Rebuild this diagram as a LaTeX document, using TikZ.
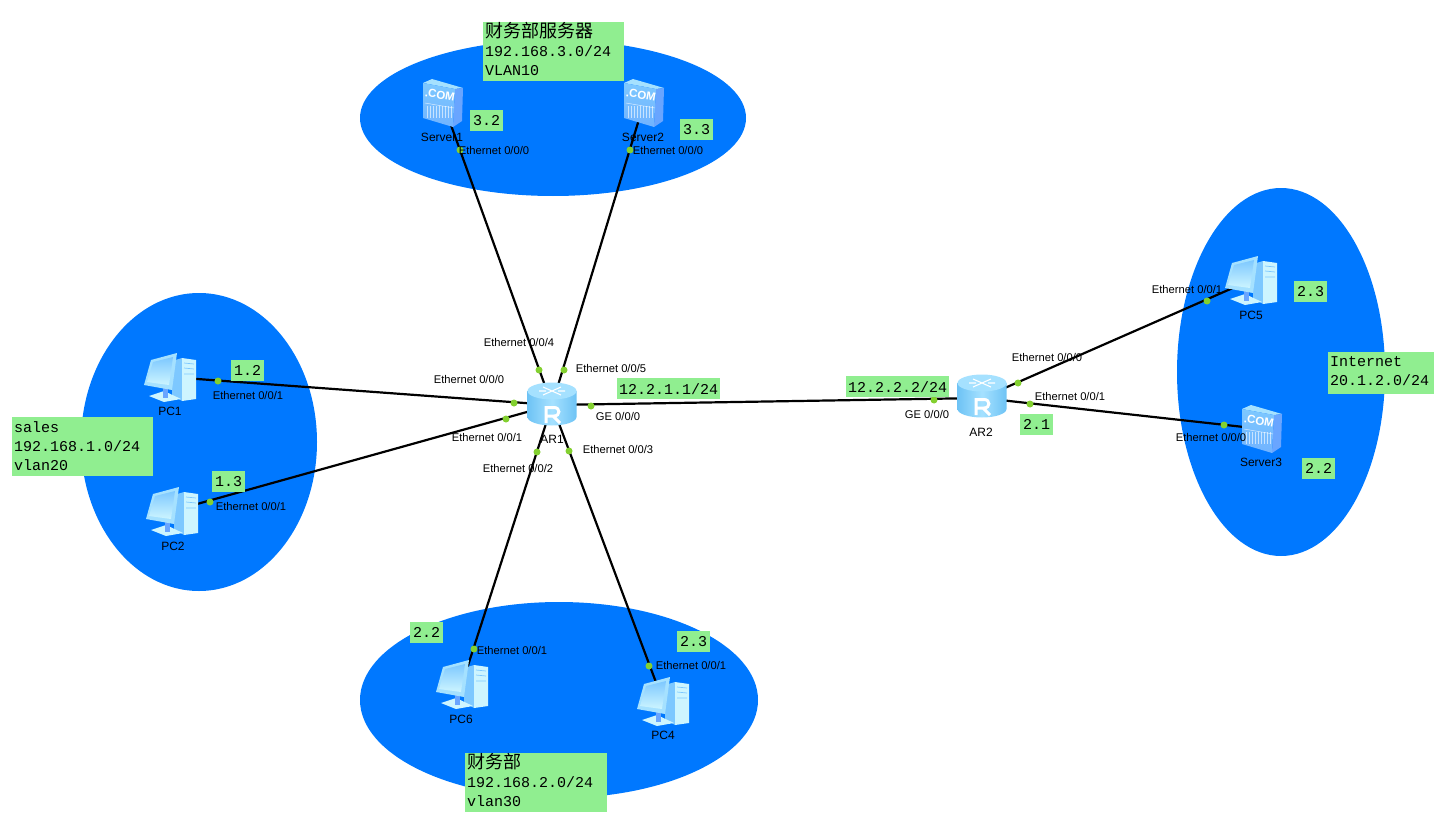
\documentclass[tikz,border=0pt]{standalone}
\usepackage{fontspec}
\setmainfont{Liberation Sans}
\setmonofont{Liberation Mono}
\newfontfamily\cjk{Noto Sans CJK SC}
\definecolor{zonecol}{RGB}{0,120,255}
\definecolor{boxcol}{RGB}{144,238,144}
\definecolor{dotcol}{RGB}{131,208,48}
\definecolor{iconpale}{RGB}{205,245,255}
\definecolor{iconlight}{RGB}{165,225,255}
\definecolor{iconmid}{RGB}{125,200,255}
\definecolor{icondark}{RGB}{105,165,255}
\definecolor{routeredge}{RGB}{110,195,245}
\tikzset{
	zone/.style={fill=zonecol,draw=none},
	link/.style={draw=black,line width=2.2pt},
	portdot/.style={circle,fill=dotcol,inner sep=0pt,minimum size=7pt},
	portlab/.style={font=\fontsize{11.2}{12}\selectfont,inner sep=0pt},
	devlab/.style={font=\fontsize{12}{12}\selectfont,inner sep=0pt},
	netbox/.style={anchor=north west,fill=boxcol,inner xsep=2pt,inner ysep=0pt,align=left,font=\fontsize{15}{19}\selectfont\ttfamily},
	ipbox/.style={anchor=north west,fill=boxcol,inner sep=0pt,minimum height=21pt,minimum width=33pt,font=\fontsize{15}{18}\selectfont\ttfamily},
	routericon/.pic={
		% body and top of the cylinder
		\path[left color=routeredge,right color=routeredge,middle color=iconlight]
			(-24.5,-13) -- (-24.5,13) arc[start angle=180,end angle=0,x radius=24.5,y radius=8.5] -- (24.5,-13) -- cycle;
		\fill[iconlight] (0,-13) ellipse[x radius=24.5,y radius=8.5];
		% arrows on top
		\draw[white,line width=1.1pt] (-9,-17) -- (9,-9) (-9,-9) -- (9,-17) (-13,-13) -- (-6,-13) (6,-13) -- (13,-13);
		% the letter
		\draw[white,line width=3pt] (-6,19) -- (-6,3.5) -- (2,3.5) .. controls (8.5,3.5) and (8.5,12) .. (2,12) -- (-6,12) (1,12) -- (8,19);
	},
	servericon/.pic={
		\fill[iconlight] (-20,-20) -- (-11,-24) -- (20,-15) -- (12,-14) -- cycle;
		\fill[icondark] (12,-14) -- (20,-15) -- (19,18) -- (10,24) -- cycle;
		\path[top color=iconmid,bottom color=icondark!60!iconmid] (-20,-20) -- (12,-14) -- (10,24) -- (-20,15) -- cycle;
		\node (-com) [white,inner sep=0pt,rotate=-10,font=\fontsize{11.5}{11.5}\selectfont\bfseries] at (-3,-8) {.COM};
		% grill
		\draw[white,opacity=.7,line width=.5pt] (-18,0) -- (11,5);
		\foreach \gx in {-16,-13,...,8} {
			\draw[white,opacity=.6,line width=.7pt] (\gx,3) -- (\gx,15);
		}
	},
	pcicon/.pic={
		% tower
		\fill[iconmid] (2,-16) -- (12,-19) -- (12,24) -- (2,18) -- cycle;
		\fill[iconpale] (12,-19) -- (26,-17) -- (26,22) -- (12,24) -- cycle;
		\draw[iconmid,line width=.7pt] (14,-14) -- (24,-13) (14,-9) -- (24,-8) (14,-3) -- (24,-3);
		% stand and foot
		\fill[iconpale] (-21,19) -- (-6,14) -- (11,22) -- (-6,25) -- cycle;
		\fill[icondark] (-7,10) -- (-2,10) -- (-2,21) -- (-7,21) -- cycle;
		% monitor
		\fill[iconlight] (-26,8) -- (-19,-17) -- (7,-24) -- (2,13) -- cycle;
		\path[top color=iconmid,bottom color=iconpale] (-23,5) -- (-17,-15) -- (3,-20) -- (-1,8) -- cycle;
	},
}

\begin{document}
\begin{tikzpicture}[x=1pt,y=-1pt]
		\useasboundingbox (0,0) rectangle (1440,824);
		
		% device positions
		\coordinate (AR1) at (552,405);
		\coordinate (AR2) at (982,398);
		\coordinate (PC1) at (170,377);
		\coordinate (PC2) at (172,511);
		\coordinate (PC4) at (663,701);
		\coordinate (PC5) at (1251,280);
		\coordinate (PC6) at (462,684);
		\coordinate (Server1) at (443,103);
		\coordinate (Server2) at (644,103);
		\coordinate (Server3) at (1262,429);
		
		% the four zones
		\fill[zone] (553,118) ellipse[x radius=193,y radius=78];
		\fill[zone] (559,700) ellipse[x radius=199,y radius=98];
		\fill[zone] (199,442) ellipse[x radius=118,y radius=149];
		\fill[zone] (1281,372) ellipse[x radius=104,y radius=184];
		
		% links
		\draw[link] (AR1) -- (Server1);
		\draw[link] (AR1) -- (Server2);
		\draw[link] (AR1) -- (PC1);
		\draw[link] (AR1) -- (PC2);
		\draw[link] (AR1) -- (PC6);
		\draw[link] (AR1) -- (PC4);
		\draw[link] (AR1) -- (AR2);
		\draw[link] (AR2) -- (PC5);
		\draw[link] (AR2) -- (Server3);
		
		% port markers
		\node[portdot] (dotS1) at (460,150) {};
		\node[portdot] (dotS2) at (630,150) {};
		\node[portdot] (dotA4) at (539,370) {};
		\node[portdot] (dotA5) at (564,370) {};
		\node[portdot] (dotA0) at (514,403) {};
		\node[portdot] (dotA1) at (506,419) {};
		\node[portdot] (dotA2) at (537,452) {};
		\node[portdot] (dotA3) at (569,451) {};
		\node[portdot] (dotAG) at (591,406) {};
		\node[portdot] (dotP1) at (218,381) {};
		\node[portdot] (dotP2) at (210,502) {};
		\node[portdot] (dotP6) at (474,649) {};
		\node[portdot] (dotP4) at (649,666) {};
		\node[portdot] (dotBG) at (934,400) {};
		\node[portdot] (dotB0) at (1018,383) {};
		\node[portdot] (dotB1) at (1030,404) {};
		\node[portdot] (dotP5) at (1207,301) {};
		\node[portdot] (dotS3) at (1224,425) {};
		
		% icons sit on top of the links
		\pic[yshift=1pt] (iconAR1) at (AR1) {routericon};
		\pic[yshift=2pt] (iconAR2) at (AR2) {routericon};
		\pic (iconPC1) at (PC1) {pcicon};
		\pic (iconPC2) at (PC2) {pcicon};
		\pic (iconPC4) at (PC4) {pcicon};
		\pic (iconPC5) at (PC5) {pcicon};
		\pic (iconPC6) at (PC6) {pcicon};
		\pic (iconS1) at (Server1) {servericon};
		\pic (iconS2) at (Server2) {servericon};
		\pic (iconS3) at (Server3) {servericon};
		
		% device names
		\node[devlab] (nameAR1) at (552,439) {AR1};
		\node[devlab] (nameAR2) at (981,432) {AR2};
		\node[devlab] (namePC1) at (170,411) {PC1};
		\node[devlab] (namePC2) at (173,546) {PC2};
		\node[devlab] (namePC4) at (663,735) {PC4};
		\node[devlab] (namePC5) at (1251,315) {PC5};
		\node[devlab] (namePC6) at (461,719) {PC6};
		\node[devlab] (nameS1) at (442,137) {Server1};
		\node[devlab] (nameS2) at (643,137) {Server2};
		\node[devlab] (nameS3) at (1261,462) {Server3};
		
		% port names
		\node[portlab] (labS1) at (494,150) {Ethernet 0/0/0};
		\node[portlab] (labS2) at (668,150) {Ethernet 0/0/0};
		\node[portlab] (labA4) at (519,342) {Ethernet 0/0/4};
		\node[portlab] (labA5) at (611,368) {Ethernet 0/0/5};
		\node[portlab] (labA0) at (469,379) {Ethernet 0/0/0};
		\node[portlab] (labA1) at (487,437) {Ethernet 0/0/1};
		\node[portlab] (labA2) at (518,468) {Ethernet 0/0/2};
		\node[portlab] (labA3) at (618,449) {Ethernet 0/0/3};
		\node[portlab] (labAG) at (618,416) {GE 0/0/0};
		\node[portlab] (labP1) at (248,395) {Ethernet 0/0/1};
		\node[portlab] (labP2) at (251,506) {Ethernet 0/0/1};
		\node[portlab] (labP6) at (512,650) {Ethernet 0/0/1};
		\node[portlab] (labP4) at (691,665) {Ethernet 0/0/1};
		\node[portlab] (labBG) at (927,414) {GE 0/0/0};
		\node[portlab] (labB0) at (1047,357) {Ethernet 0/0/0};
		\node[portlab] (labB1) at (1070,396) {Ethernet 0/0/1};
		\node[portlab] (labP5) at (1187,289) {Ethernet 0/0/1};
		\node[portlab] (labS3) at (1211,437) {Ethernet 0/0/0};
		
		% network notes, the empty rule lifts the text inside the box
		\node[netbox,text width=137pt,minimum height=57pt] (netTop) at (483,22) {{\cjk\fontsize{18}{19}\selectfont 财务部服务器}\\192.168.3.0/24\\VLAN10\rule[-6pt]{0pt}{0pt}};
		\node[netbox,text width=137pt,minimum height=59pt] (netLeft) at (12,417) {sales\\192.168.1.0/24\\vlan20\rule[-2pt]{0pt}{0pt}};
		\node[netbox,text width=138pt,minimum height=58pt] (netBottom) at (465,753) {{\cjk\fontsize{18}{19}\selectfont 财务部}\\192.168.2.0/24\\vlan30\rule[-6pt]{0pt}{0pt}};
		\node[netbox,text width=102pt,minimum height=42pt] (netRight) at (1328,352) {Internet\\20.1.2.0/24\rule[-5pt]{0pt}{0pt}};
		
		% address notes
		\node[ipbox] (ipS1) at (470,110) {3.2};
		\node[ipbox] (ipS2) at (680,119) {3.3};
		\node[ipbox] (ipP1) at (231,360) {1.2};
		\node[ipbox] (ipP2) at (212,471) {1.3};
		\node[ipbox] (ipP6) at (410,622) {2.2};
		\node[ipbox] (ipP4) at (677,631) {2.3};
		\node[ipbox,minimum width=103pt] (ipA) at (617,378) {12.2.1.1/24};
		\node[ipbox,minimum width=103pt] (ipB) at (846,376) {12.2.2.2/24};
		\node[ipbox] (ipB1) at (1020,414) {2.1};
		\node[ipbox] (ipP5) at (1294,281) {2.3};
		\node[ipbox] (ipS3) at (1302,458) {2.2};
		
		\end{tikzpicture}
\end{document}
